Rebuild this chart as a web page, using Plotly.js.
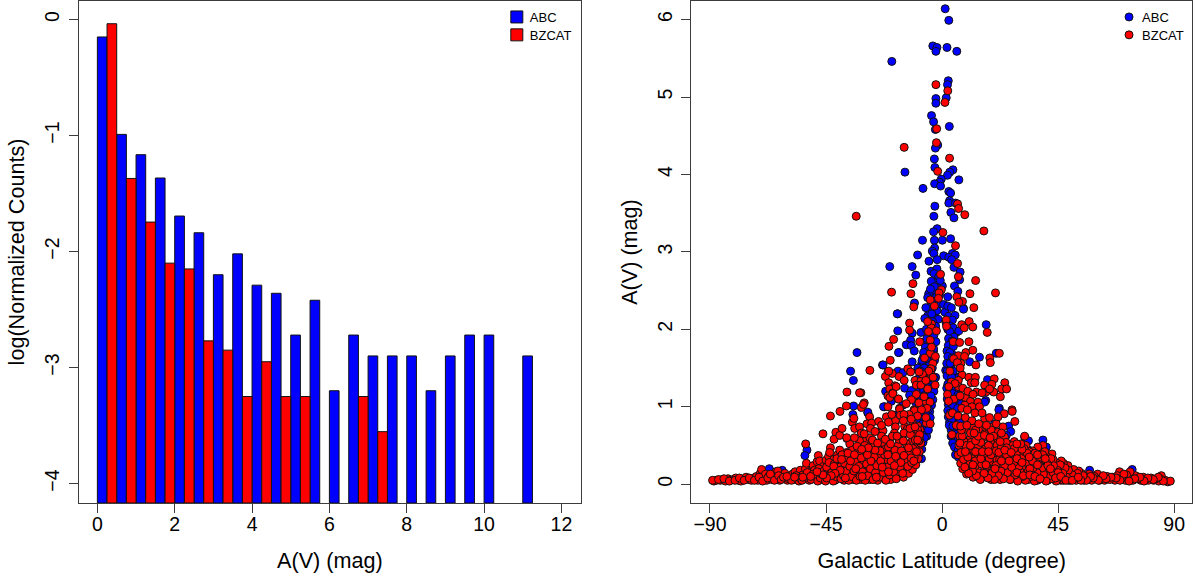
<!DOCTYPE html>
<html><head><meta charset="utf-8">
<script src="https://cdn.plot.ly/plotly-3.0.1.min.js"></script>
<style>html,body{margin:0;padding:0;background:#fff}</style></head>
<body><div id="chart" style="width:1200px;height:577px"></div>
<script>
const seriesNames = ["ABC", "BZCAT"];
const abcBins = [0,0.5,1,1.5,2,2.5,3,3.5,4,4.5,5,5.5,6,6.5,7,7.5,8,8.5,9,9.5,10,11];
const abcLogCounts = [-0.15,-0.99,-1.165,-1.366,-1.694,-1.838,-2.2,-2.02,-2.29,-2.36,-2.72,-2.42,-3.2,-2.72,-2.9,-2.9,-2.9,-3.2,-2.9,-2.72,-2.72,-2.9];
const bzcatBins = [0.25,0.75,1.25,1.75,2.25,2.75,3.25,3.75,4.25,4.75,5.25,6.75,7.25];
const bzcatLogCounts = [-0.036,-1.37,-1.746,-2.1,-2.15,-2.77,-2.85,-3.25,-2.95,-3.25,-3.25,-3.25,-3.553];

// [galactic latitude, A(V)]
const abcPoints = [
[1.2,6.14],[2.6,5.99],[-3.6,5.66],[-2,5.64],[-2.4,5.59],[1.9,5.64],[5.7,5.59],[-19.5,5.46],[2.4,5.21],[2.1,5.16],[-2.4,4.98],[1.6,4.99],[-2.4,4.92],[-4.1,4.76],[-3.3,4.68],[2.8,4.62],[-2.6,4.58],[-1.7,4.38],[-2.6,4.34],[-3,4.2],[-2.8,4.09],[-14.4,4.03],[4.2,4.06],[3,4.03],[2.1,3.99],[6.5,3.93],[-0.3,3.94],[-1,3.9],[-2.9,3.88],[-0.6,3.85],[-7.4,3.82],[2.6,3.78],[3.3,3.76],[2.9,3.66],[2.6,3.63],[5.2,3.63],[-2.8,3.59],[3.4,3.51],[-3.2,3.46],[4.6,3.44],[-1.9,3.3],[-3.3,3.26],[-7.6,3.15],[-3,3.15],[0.1,3.15],[3.3,3.17],[-2.9,3.05],[-3.8,3.01],[-3.2,2.98],[-9.5,2.96],[0.6,2.95],[4,2.98],
[2.6,2.93],[5.1,2.96],[3.7,2.9],[-1.9,2.9],[-5.1,2.88],[-20.3,2.81],[-11.6,2.81],[-4.3,2.75],[-2,2.78],[4.6,2.8],[7,2.74],[-10.2,2.7],[6.8,2.64],[-2.5,2.61],[0.1,2.56],[-2,2.54],[4.8,2.56],[6.1,2.49],[-3.6,2.48],[-5.2,2.46],[-5.6,2.41],[2.2,2.42],[-10.7,2.34],[-2.9,2.37],[8.3,2.27],
[-17.2,2.2],[-5.5,2.18],[-2.9,2.16],[-1.5,2.13],[-4.8,2.25],[1.1,2.22],[2.6,2.17],[5,2.18],[4,2.12],[8.3,2.26],[17.1,2.06],[-17.2,1.98],[-11.6,1.95],[-8.2,1.96],[5.5,1.96],[3.6,1.93],[-12.2,1.86],[-13.9,1.8],[-11.9,1.79],[-6.8,1.84],[3.2,1.82],[3.4,1.76],[-10.8,1.72],[-16.7,1.7],[-3.3,1.72],[3.7,1.69],[21,1.69],[-7.4,1.63],[-4.8,1.64],[14.5,1.64],[-11.6,1.58],[-23.1,1.54],[2.6,1.59],[-7.9,1.56],[-5.5,1.56],[10.7,1.58],[2.6,1.52],[-9.4,1.5],[-7.4,1.49],[1.4,1.47],[3.4,1.5],[-17.1,1.46],[-15.2,1.44],[-6.4,1.45],[-4.8,1.41],[-2.5,1.38],[4.7,1.4],[6.5,1.38],[17.6,1.35],[-7.4,1.34],[2.9,1.34],[-14.5,1.24],[-11.9,1.21],[-8.7,1.21],[-4.8,1.22],[-21.9,1.2],[2.9,1.21],[5.5,1.2],[-12.6,1.15],[-7.4,1.12],[-3.6,1.09],[2.9,1.12],[16.9,1.08],[4.8,1.06],[6.8,1.04],[-15.2,1.02],[-10,1.04],[-6.1,1],[4.2,1],[22.2,0.98],[-22.3,1],
[-33,1.7],[-35.5,1.46],[-34.4,1.34],[-34.3,1.01],[-34.6,0.9],[-28.8,0.92],[-22.9,1.54],[-52.4,0.44],[-53.2,0.37],[-36.9,0.59],[-17.4,2.2],[-16.9,1.7],
[-28.8,0.93],[-22.7,1],[-19.7,1.07],[-18.4,0.89],[-18,0.81],[-24.2,0.52],[-22.9,0.59],[-7.4,1.04],[-4.8,0.94],[-7.4,0.91],[-8.7,0.82],[-5.5,0.79],[-8.1,0.65],[-7.4,0.54],[-8,0.33],[-9.4,0.44],[3.6,1.04],[5.5,0.99],[16.5,1.06],[2.9,0.8],[4.8,0.91],[6.8,0.82],[8.1,0.74],[13.3,0.77],[22,0.96],[25.8,0.75],[26.6,0.68],[6.1,0.63],[4.6,0.56],[5.5,0.46],[20.3,0.78],[24.9,0.63],[32,0.61],[39.1,0.57],[33.5,0.56],[33.5,0.44],[35.2,0.38],[40.4,0.48],[57.2,0.18],[73.7,0.19],[-62,0.18],[-67,0.2],[-9,0.68],[-6.7,0.9],[-6,0.62],[-7,0.75],[-10,0.58],[-12,0.5],[3.5,0.7],[4,0.82],[5,0.68],[7,0.55],[8.5,0.4],[6.3,0.35],[10,0.28]
];
const abcCore = [
[-3.1,2.72],[-1.3,2.68],[-4.2,2.62],[-0.7,2.63],[-3,2.55],[-4.5,2.52],[-1,2.44],[-2.2,2.42],[-3.9,2.36],[-1.1,2.33],[-4.4,2.31],[-6.3,2.28],[-3.3,2.27],[-2,2.24],[-4,2.2],[-6.7,2.14],[-3.7,2.1],[-5,2.07],[-2.5,2.04],[-6.1,2],[-4.8,1.95],[-3.2,1.92],[-5.9,1.88],[-2.4,1.84],[-4.5,1.8],[-6.5,1.77],[-3.3,1.75],[-5.4,1.72],[-7.2,1.7],[-4,1.67],[-6,1.62],[-2.9,1.6],[-7.8,1.6],[-5.1,1.53],[-3.8,1.5],[-6.9,1.5],[-8.3,1.46],[-4.4,1.45],[-5.8,1.4],[-3,1.36],[-7.1,1.37],[-9.2,1.36],[-5,1.33],[-6.3,1.3],[-3.9,1.28],[-8,1.27],[-5.5,1.25],[-7.2,1.22],[-3.2,1.2],[-6.1,1.17],[-9.2,1.14],[-4.3,1.14],[-8,1.1],[-5.5,1.07],[-6.8,1.05],[-4.1,1.02],[-8.6,1],[-5.3,0.97],[-6.4,0.92],[-8.1,0.88],[-4.6,0.86],[-5.8,0.82],[-7.5,0.78],[-6.2,0.7],[-7.9,0.66],[-9.7,0.63],[-5.3,0.7],[-6.8,0.6],[-8.8,0.53],[-7.9,0.45],[-9.1,0.37],
[0.6,2.32],[2.2,2.3],[3.6,2.28],[1.5,2.09],[2.8,2.05],[4.3,2.02],[2.2,2],[3,1.97],[6.5,1.98],[4.6,1.9],[2.5,1.88],[3.9,1.85],[2.4,1.79],[4.4,1.78],[1.9,1.72],[3,1.7],[2.2,1.65],[3.9,1.63],[1.8,1.56],[3.1,1.56],[2,1.46],[4.3,1.46],[1.9,1.4],[3.7,1.38],[2.2,1.29],[4.1,1.3],[1.8,1.24],[3.6,1.24],[2.4,1.17],[4.1,1.17],[6.1,1.15],[2,1.1],[3.6,1.09],[5.2,1.1],[2.4,1.03],[4.1,1.02],[6,0.98],[2.2,0.95],[3.2,0.92],[5.1,0.9],[2.4,0.87],[3.7,0.84],[2.8,0.76],[4.2,0.75],[5.8,0.74],[3.5,0.62],[4.1,0.53],[4.8,0.48],[5.2,0.38],[6.2,0.44],[7.7,0.5],[9.3,0.56]
];
const bzcatPoints = [
[-2.4,5.16],[2.2,5.08],[1.1,4.93],[-2.1,4.59],[-2.2,4.41],[-14.7,4.35],[2.9,4.21],[-1.7,4.04],[6,3.62],[6.4,3.56],[8.8,3.48],[-33.3,3.46],[16.2,3.27],[0.3,3.25],[5.2,3.08],
[6,2.85],[-0.6,2.71],[6.3,2.68],[13,2.63],[-11.3,2.59],[-19.6,2.48],[-12.1,2.46],[-0.3,2.51],[-1.2,2.47],[10.8,2.46],[20.7,2.47],[-1.4,2.4],[-4.6,2.38],[5.7,2.42],[7.9,2.36],[6.5,2.35],[-11,2.29],[-3,2.3],[12.3,2.28],
[-12.6,2.08],[-4.1,2.07],[1.6,2.12],[7.6,2.06],[10.5,2.1],[1.7,2.04],[8.6,2.02],[11.9,2.03],[-12.6,1.99],[-4.2,2.02],[-5.3,1.97],[-2.2,1.98],[17.5,1.96],[-18.8,1.87],[-20.6,1.78],[-8.7,1.84],[-4.6,1.86],[4.3,1.84],[6.8,1.83],[10.4,1.84],[9.2,1.7],[11.9,1.73],[-4.6,1.69],[6.3,1.66],[8.7,1.65],[22.2,1.69],[18.5,1.63],[18.7,1.57],[-20.1,1.6],[-3.6,1.56],[7.3,1.56],[13.1,1.54],[-4.3,1.49],[-28,1.47],[-13.3,1.49],[-12.2,1.45],[-21,1.45],[-19.3,1.43],[-22,1.39],[-16.7,1.39],[-14.7,1.34],[-4.2,1.41],[7.7,1.41],[10.4,1.38],[12.9,1.38],[-10.5,1.34],[-8.3,1.33],[3.6,1.32],[6.3,1.34],[11.3,1.31],[12.7,1.31],[20.2,1.36],[19.3,1.29],[24.3,1.31],[16.5,1.28],[-20.7,1.31],[-18.3,1.27],[-20.3,1.23],[-10,1.28],[-8.2,1.28],[-5.6,1.23],[6.3,1.26],[23.1,1.23],[25,1.23],[13.3,1.19],[17,1.19],[20,1.19],[-31.5,1.18],[-10,1.16],[-19.1,1.18],[-21,1.14],[22.6,1.13],[2.1,1.16],[-17,1.1],[-11.9,1.09],[-6.7,1.07],[-30.2,1.05],[9,1.12],[11,1.07],[13.9,1.06],[8.8,1.02],[11.6,1],[14.5,1],[-16.5,0.98],[-10.9,0.96],[27.1,0.96],[-31.3,0.99],
[-52.9,0.52],[-46.2,0.65],[-43.3,0.88],[-39.6,0.94],[-37.1,1.01],[-36.9,1.19],[-32,1.18],[-30.5,1.03],[-43.3,0.47],[-41.2,0.67],[-41.9,0.58],[-39.7,0.63],[-38.8,0.72],[-34.8,0.8],[-34.2,0.85],[-33.9,0.72],[-32,0.74],[-31.3,0.66],[-28.1,0.87],[-29.1,0.78],[-27.3,0.79],[-27.8,0.72],[-24.6,0.81],[-23.4,0.69],[-20.7,1.46],[-21,1],[-20.3,1.12],[-21.6,0.87],[-18.1,0.82],[-17.8,1.26],[-19.1,1.17],[-16.9,1.1],[-16.5,0.97],[-16.2,0.89],
[24.1,0.91],[27.2,0.94],[28.2,0.81],[16.5,0.85],[32,0.62],[19.5,0.74],[21,0.78],[21.6,0.67],[24.2,0.61],[26.4,0.51],[19.3,0.52],[14.8,0.57],[10.7,0.69],[5.5,0.76],[2.9,0.89],[3.8,0.64],[-22.9,0.69],[-18.1,0.74],[-14.5,0.75],[-11.3,0.78],[-9.4,0.75],[-6.1,0.79],[-10.7,0.95],[-13.9,1.04],[-8.7,0.59],[-9,0.47],[-12.6,0.24],[-16.5,0.23],[-20.3,0.33],[-25.5,0.39],[-29.4,0.57],[-30.8,0.48],
[-88.5,0.04],[-87.5,0.05],[-86,0.05],[-85,0.06],[-84,0.04],[-83,0.07],[-82,0.05],[-81,0.06],[-80,0.08],[-79,0.05],[-78,0.04],[-77,0.06],[-76,0.09],[-75,0.06],[-74,0.05],[-73,0.08],[-72,0.1],[-71.5,0.05],[-70.5,0.14],[-70,0.19],[-69,0.07],[-68.5,0.13],[-68,0.05],[-67,0.11],[-66,0.06],[-65.5,0.13],[-64.5,0.16],[-64,0.08],[-63.7,0.17],[-63,0.05],[-62,0.11],[-61,0.14],[-60.5,0.07],[-60,0.05],[-59,0.1],[-58,0.13],[-57.5,0.06],[-57,0.16],[-56,0.08],[-55.5,0.04],[-55,0.18],[-54,0.12],[-53.5,0.07],[-53,0.2],[-52.6,0.27],[-52,0.11],[-51.5,0.05],[-51,0.16],[-50.5,0.09],[-50,0.24],[-49.5,0.18],[-49,0.07],[-48.5,0.29],[-48,0.12],[-48,0.37],[-47.5,0.3],[-47,0.18],[-46.5,0.06],[-46,0.23],[-45.5,0.1],[-45,0.31],[-44.5,0.16],[-44,0.36],[-43.6,0.41],[-43.5,0.07],[-43,0.24],[-42.5,0.12],[-42,0.32],[-41.5,0.05],[-41,0.18],[-40.5,0.38],[-40,0.09],[-39.7,0.44],[-39.5,0.27],[-39,0.14],[-38.5,0.33],[-38,0.05],[-37.5,0.2],[-37,0.41],[-36.5,0.1],[-36,0.29],[-35.8,0.52],[-35.5,0.15],[-35,0.37],[-34.5,0.06],[-34,0.23],[-33.5,0.46],[-33,0.12],[-32.5,0.31],[-32,0.56],[-32,0.18],[-31.5,0.06],[-31,0.39],[-30.5,0.26],[-30,0.1],[-29.5,0.48],[-29,0.16],[-28.5,0.33],[-28,0.6],[-28,0.06],[-27.5,0.22],[-27,0.42],[-26.5,0.11],[-26,0.29],[-25.5,0.53],[-25,0.05],[-24.5,0.17],[-24,0.36],[-23.5,0.62],[-23,0.09],[-22.5,0.24],[-22,0.46],[-21.5,0.13],[-21,0.31],[-20.5,0.56],[-20,0.06],[-19.5,0.19],[-19,0.4],[-18.5,0.66],[-18,0.1],[-17.5,0.27],[-17,0.5],[-16.5,0.14],[-16,0.35],[-15.5,0.6],[-15,0.09],[-14.5,0.22],[-14,0.44],[-13.5,0.71],[-13,0.14],[-12.5,0.3],[-12,0.54],[-11.5,0.19],[-11,0.39],[-10.5,0.66],[-10.2,0.25],[-9.7,0.48],[-9.3,0.33],[-8.8,0.42],[-8.5,0.7],[-8.3,0.53],
[87.5,0.03],[86.5,0.05],[85,0.11],[85,0.06],[84,0.04],[83,0.07],[82,0.05],[81,0.08],[80,0.05],[79,0.06],[78,0.09],[77,0.05],[76,0.07],[75,0.11],[74,0.05],[73.5,0.09],[72.9,0.16],[72,0.07],[71.5,0.12],[71,0.05],[70,0.1],[69.5,0.07],[68.8,0.16],[68,0.11],[67,0.05],[66,0.09],[65,0.06],[64,0.1],[63,0.05],[62,0.08],[61,0.05],[60.3,0.13],[60,0.07],[59,0.1],[58,0.05],[57,0.13],[56.5,0.07],[55.5,0.1],[55,0.05],[54,0.14],[53.5,0.08],[53,0.17],[52,0.05],[51.5,0.11],[51,0.19],[50,0.08],[49.5,0.14],[49,0.05],[48.8,0.24],[48,0.17],[47.5,0.09],[47,0.27],[46.5,0.13],[46.2,0.3],[46,0.05],[45.5,0.2],[45,0.11],[44.5,0.27],[44,0.16],[43.5,0.07],[43,0.32],[42.6,0.39],[42.5,0.22],[42,0.12],[41.5,0.28],[41,0.05],[40.5,0.36],[40,0.17],[39.5,0.09],[39.1,0.5],[39,0.27],[38.5,0.41],[38,0.14],[37.5,0.34],[37.1,0.48],[37,0.05],[36.5,0.2],[36,0.28],[35.5,0.1],[35,0.43],[34.5,0.16],[34,0.33],[33.5,0.06],[33,0.24],[32.5,0.5],[32,0.13],[31.5,0.38],[31,0.2],[30.5,0.07],[30,0.3],[29.5,0.45],[29,0.11],[28.5,0.24],[28,0.55],[27.5,0.16],[27,0.36],[26.5,0.06],[26,0.45],[25.5,0.21],[25,0.11],[24.5,0.3],[24,0.51],[23.5,0.16],[23,0.39],[22.5,0.06],[22,0.25],[21.5,0.58],[21,0.12],[20.5,0.33],[20,0.47],[19.5,0.18],[19,0.06],[18.5,0.28],[18,0.62],[17.5,0.38],[17,0.11],[16.5,0.2],[16,0.5],[15.5,0.3],[15,0.07],[14.5,0.4],[14,0.15],[13.5,0.65],[13,0.24],[12.5,0.52],[12,0.09],[11.5,0.33],[11,0.6],[10.5,0.18],[10,0.44],[9.5,0.13],[9,0.28],[8.5,0.55],[8,0.2],[7.8,0.36],[7.5,0.46],[7.2,0.27],[6.8,0.62],[6.5,0.5],[6.2,0.38]
];
const bzcatFillLeft = [
[-89,0.05],[-86.7,0.06],[-84.6,0.07],[-82.5,0.04],[-80.3,0.05],[-78.6,0.08],[-76.8,0.05],[-74.8,0.08],[-72.8,0.05],[-71,0.09],[-69.6,0.04],[-67.6,0.08],[-66.6,0.13],[-65,0.05],[-63.4,0.11],[-62.4,0.06],[-61.5,0.09],[-59.5,0.07],[-58.4,0.05],[-56.6,0.11],[-55,0.08],[-54.3,0.05],[-52.7,0.09],[-52.3,0.15],[-50.8,0.06],[-50,0.13],[-49.2,0.1],[-48.2,0.04],[-47.8,0.2],[-47.2,0.08],[-46.8,0.13],[-45.8,0.17],[-45.2,0.04],[-44.8,0.22],[-44.2,0.11],[-43.8,0.28],[-42.8,0.15],[-42.2,0.04],[-41.8,0.26],[-41.3,0.1],[-40.8,0.33],[-40.2,0.15],[-39.8,0.22],[-39.2,0.07],[-38.8,0.38],[-38.2,0.11],[-37.8,0.27],[-37.2,0.17],[-36.8,0.34],[-36.2,0.05],[-35.8,0.23],[-35.2,0.1],[-34.8,0.44],[-34.2,0.17],[-33.8,0.29],[-33.2,0.05],[-32.8,0.4],[-32.3,0.23],[-31.8,0.1],[-31.3,0.34],[-30.8,0.16],[-30.3,0.44],[-29.8,0.05],[-29.3,0.26],[-28.8,0.11],[-28.3,0.4],[-27.8,0.2],[-27.3,0.49],[-26.8,0.06],[-26.3,0.35],[-25.8,0.15],[-25.3,0.24],[-24.8,0.46],[-24.3,0.09],[-23.8,0.3],[-23.3,0.54],[-22.8,0.15],[-22.3,0.38],[-21.8,0.05],[-21.3,0.22],[-20.8,0.48],[-20.3,0.12],[-19.8,0.3],[-19.3,0.62],[-18.8,0.16],[-18.3,0.44],[-17.8,0.07],[-17.3,0.33],[-16.8,0.58],[-16.3,0.22],[-15.8,0.43],[-15.3,0.14],[-14.8,0.66],[-14.2,0.3],[-13.8,0.52],[-13.3,0.23],[-12.8,0.4],[-12.3,0.64],[-11.8,0.28],[-11.3,0.46],[-10.8,0.34],[-10.4,0.57],[-9.9,0.42],[-9.5,0.7],[-9,0.56],[-8.7,0.64],[-36.5,0.4],[-39,0.32],[-42,0.23],[-33,0.49],[-30,0.5],[-27,0.57],[-25,0.53],[-22,0.58],[-20,0.52],[-17.5,0.62],[-15,0.56],[-12.5,0.72],[-10.5,0.74],[-13,0.47],[-16,0.28],[-18.5,0.24],[-20.8,0.16],[-23.2,0.22],[-25.5,0.09],[-27.6,0.3],[-29,0.38],[-31,0.1],[-33.5,0.2],[-35.5,0.3],[-37.5,0.08],[-39.5,0.18],[-41.5,0.14],[-43,0.11],[-44.8,0.08],[-46.2,0.12],[-48.5,0.16],[-51,0.1],[-54,0.09],[-57.2,0.09],[-60.2,0.1],[-24,0.43],[-26,0.44],[-28.6,0.47],[-31.2,0.45],[-34,0.38],[-21,0.38],[-18,0.36],[-14.8,0.37],[-12,0.34],[-11,0.3],[-9.5,0.57]
];
const bzcatFillRight = [
[88.5,0.04],[85.8,0.04],[83.8,0.09],[81.9,0.06],[79.8,0.08],[78.3,0.04],[76.7,0.09],[74.7,0.07],[72.5,0.04],[70.5,0.13],[69,0.05],[67.5,0.08],[65.5,0.09],[63.6,0.07],[62.5,0.11],[60.6,0.05],[58.6,0.08],[57.6,0.1],[56,0.05],[54.7,0.11],[53.8,0.05],[52.5,0.14],[51.8,0.08],[50.5,0.12],[49.8,0.05],[49,0.18],[48.3,0.09],[47.7,0.21],[47,0.05],[46.8,0.14],[45.8,0.25],[45.2,0.08],[44.7,0.18],[44.2,0.04],[43.7,0.12],[43.2,0.24],[42.7,0.07],[42.2,0.33],[41.7,0.17],[41.2,0.1],[40.8,0.26],[40.3,0.04],[39.8,0.42],[39.3,0.13],[38.8,0.21],[38.3,0.32],[37.8,0.07],[37.3,0.26],[36.8,0.15],[36.3,0.38],[35.8,0.04],[35.3,0.21],[34.8,0.31],[34.3,0.1],[33.8,0.42],[33.3,0.16],[32.8,0.28],[32.3,0.05],[31.8,0.46],[31.3,0.1],[30.8,0.33],[30.3,0.16],[29.8,0.23],[29.3,0.04],[28.8,0.4],[28.3,0.12],[27.8,0.28],[27.3,0.5],[26.8,0.19],[26.3,0.06],[25.8,0.37],[25.3,0.15],[24.8,0.54],[24.3,0.24],[23.8,0.07],[23.3,0.44],[22.8,0.17],[22.3,0.32],[21.8,0.11],[21.3,0.5],[20.8,0.24],[20.3,0.06],[19.8,0.4],[19.3,0.14],[18.8,0.56],[18.3,0.33],[17.8,0.08],[17.3,0.23],[16.8,0.46],[16.3,0.14],[15.8,0.6],[15.3,0.26],[14.8,0.06],[14.3,0.35],[13.8,0.49],[13.3,0.11],[12.8,0.3],[12.3,0.43],[11.8,0.17],[11.3,0.54],[10.8,0.26],[10.3,0.14],[9.8,0.36],[9.3,0.5],[8.8,0.22],[8.3,0.32],[7.8,0.62],[7.3,0.41],[6.9,0.53],[15,0.7],[17,0.72],[19,0.7],[12,0.73],[9,0.72],[7.5,0.7],[11,0.5],[13,0.42],[15,0.33],[17,0.25],[19,0.38],[21,0.43],[23,0.3],[25,0.38],[27,0.22],[29,0.33],[31,0.28],[33,0.4],[35,0.3],[37,0.25],[39,0.38],[41,0.24],[43,0.15],[45,0.15],[15,0.54],[18,0.5],[23,0.48],[26,0.3],[29,0.15],[31,0.45],[34,0.2],[36,0.4],[13,0.56],[10,0.35],[9,0.42],[12,0.25],[14,0.62],[16.5,0.65],[20,0.62],[22.5,0.55],[25,0.47],[28,0.46],[30.5,0.52],[33.8,0.35],[37,0.38],[40,0.33],[42,0.2],[44,0.08],[46,0.1],[48,0.05],[50.5,0.05],[52.8,0.09],[11,0.66],[13,0.7],[15.6,0.42],[18,0.42],[20.5,0.2],[22,0.41],[24.3,0.44],[26.8,0.41],[29,0.52],[31.5,0.11],[34,0.12],[36,0.1],[38,0.07]
];
const bzcatCore = [
[-5.6,2.1],[-4.1,1.77],[-6.8,1.63],[-2.6,1.65],[-5.2,1.46],[-7.6,1.42],[-3.5,1.38],[-6.3,1.34],[-8.9,1.45],[-2.7,1.28],[-7,1.13],[-4.7,1.06],[-9,1.05],[-5.9,0.98],[-8,0.96],[-12.8,0.9],[-14.8,0.9],[-6.3,0.86],[-4.6,0.78],[-9.5,0.88],[-12,0.84],[-15,0.82],[-19.5,0.9],[-20.8,0.8],[-23.5,0.76],[-26,0.68],[-30.2,0.65],[-34,0.6],[-37,0.6],[4.5,1.62],[5.9,1.57],[3,1.46],[7,1.5],[5,1.3],[2.6,1.26],[8,1.24],[4.6,1.1],[7,1.14],[2.5,1.07],[10,1.2],[12,1.16],[15.5,1.18],[18.4,1.23],[7.6,0.98],[9.8,0.96],[4,0.92],[12.7,0.92],[15.5,0.92],[18.4,0.86],[6.2,0.88],[9,0.86],[11.6,0.82],[14.2,0.78],[17.2,0.76],[21.7,0.87],[23.6,0.74],[7.2,0.75],[9.6,0.76],[12.4,0.66],[16.4,0.63],[18.6,0.6],[23,0.66]
];

const xTicksL = [0,2,4,6,8,10,12];
const yTicksL = [0,-1,-2,-3,-4];
const xTicksR = [-90,-45,0,45,90];
const yTicksR = [0,1,2,3,4,5,6];
const xLabelL = "A(V) (mag)", yLabelL = "log(Normalized Counts)";
const xLabelR = "Galactic Latitude (degree)", yLabelR = "A(V) (mag)";
const blue = "#0000ff", red = "#ff0000", ink = "#000", frame = "#3c3c3c";
const yRangeL = [-4.168, 0.16];
const barOutline = {color: "#111", width: 1};

function bars(name, xs, vals, color) {
  return {type: "bar", name, x: xs, y: vals.map(v => v - yRangeL[0]), base: yRangeL[0],
    width: 0.25, offset: 0, xaxis: "x", yaxis: "y", legend: "legend",
    marker: {color, line: barOutline}, hoverinfo: "skip"};
}
function dots(name, pts, color) {
  return {type: "scatter", mode: "markers", name, x: pts.map(p => p[0]), y: pts.map(p => p[1]),
    xaxis: "x2", yaxis: "y2", legend: "legend2", cliponaxis: false,
    marker: {color, size: 8, line: {color: "#111", width: 1}}};
}
function axis(o) {
  return Object.assign({showgrid: false, zeroline: false, showline: true, mirror: true,
    linecolor: frame, linewidth: 1.2, ticks: "outside", ticklen: 9, tickwidth: 1, tickcolor: frame,
    tickfont: {family: "Liberation Sans", size: 19.5, color: ink}}, o);
}
const titleFont = {family: "Liberation Sans", size: 21.6, color: ink};
const W = 1200, H = 577, L = 79, R = 1192.5, T = 1, B = 503;
const legendBase = {bgcolor: "rgba(0,0,0,0)", borderwidth: 0, itemwidth: 30, tracegroupgap: 0,
  font: {family: "Liberation Sans", size: 13, color: ink}, xanchor: "left", yanchor: "top", itemclick: false};

const layout = {
  width: W, height: H, paper_bgcolor: "#fff", plot_bgcolor: "#fff", barmode: "overlay",
  margin: {l: L, r: W - R, t: T, b: H - B, pad: 0}, showlegend: true,
  xaxis: axis({domain: [0, (581 - L) / (R - L)], range: [-0.475, 12.5], tickvals: xTicksL, ticklabelstandoff: -6,
    title: {text: xLabelL, font: titleFont, standoff: 19}}),
  yaxis: axis({range: yRangeL, tickvals: yTicksL, tickangle: -90, ticklabelstandoff: 2,
    title: {text: yLabelL, font: titleFont, standoff: 10}}),
  xaxis2: axis({domain: [(691.7 - L) / (R - L), 1], range: [-97.2, 96.9], tickvals: xTicksR, anchor: "y2", ticklabelstandoff: -6,
    title: {text: xLabelR, font: titleFont, standoff: 19}}),
  yaxis2: axis({range: [-0.243, 6.24], tickvals: yTicksR, tickangle: -90, anchor: "x2", ticklabelstandoff: 2,
    title: {text: yLabelR, font: titleFont, standoff: 9}}),
  legend: Object.assign({}, legendBase, {x: (490 - L) / (R - L), y: 1}),
  legend2: Object.assign({}, legendBase, {x: (1102.5 - L) / (R - L), y: 1})
};
const traces = [
  bars(seriesNames[0], abcBins, abcLogCounts, blue),
  bars(seriesNames[1], bzcatBins, bzcatLogCounts, red),
  dots(seriesNames[0], abcPoints.concat(abcCore), blue),
  dots(seriesNames[1], bzcatPoints.concat(bzcatFillLeft, bzcatFillRight, bzcatCore), red)
];
Plotly.newPlot("chart", traces, layout, {displayModeBar: false, responsive: false}).then(() => {
  // R-style legend: swatches sit closer to their labels, rows slightly tighter
  document.querySelectorAll(".infolayer > g.legend, .infolayer > g.legend2").forEach(lg => {
    lg.querySelectorAll(".legendsymbols").forEach(s => s.setAttribute("transform", "translate(7,0)"));
    lg.querySelectorAll(".traces").forEach((t, i) => {
      const m = /translate\(([^,]+),\s*([^)]+)\)/.exec(t.getAttribute("transform") || "");
      if (m) t.setAttribute("transform", "translate(" + m[1] + "," + (parseFloat(m[2]) + (i ? -1 : 1)) + ")");
    });
  });
});
</script></body></html>
